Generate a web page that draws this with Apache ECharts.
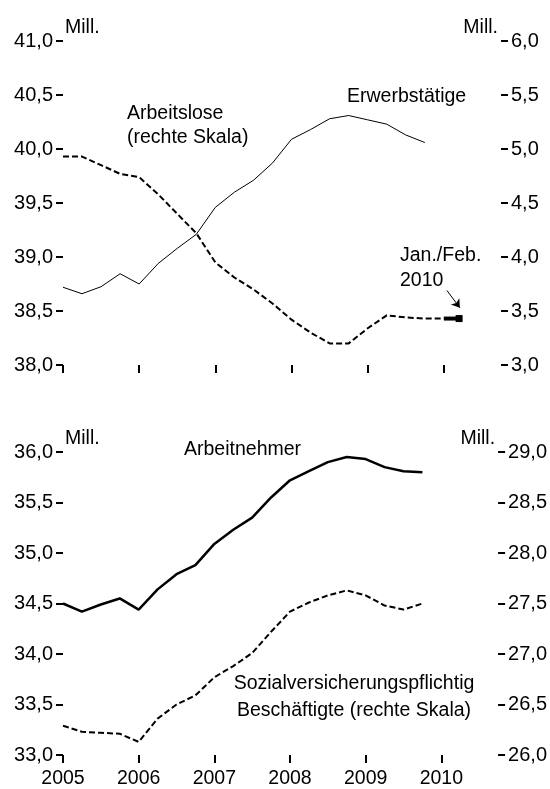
<!DOCTYPE html>
<html>
<head>
<meta charset="utf-8">
<script src="https://cdn.jsdelivr.net/npm/echarts@6/dist/echarts.min.js"></script>
<style>
html,body{margin:0;padding:0;background:#fff;}
#chart{width:550px;height:789px;}
</style>
</head>
<body>
<div id="chart"></div>
<script>
// Quarter positions (fractional years)
var quarters = [2005.0, 2005.25, 2005.5, 2005.75, 2006.0, 2006.25, 2006.5, 2006.75,
                2007.0, 2007.25, 2007.5, 2007.75, 2008.0, 2008.25, 2008.5, 2008.75,
                2009.0, 2009.25, 2009.5, 2009.75];
var yearTicks = [2005, 2006, 2007, 2008, 2009, 2010];

// Top panel (Mill.)
var erwerbstaetige = [38.72, 38.66, 38.725, 38.845, 38.75, 38.94, 39.08, 39.21, 39.46, 39.60,
                      39.71, 39.87, 40.09, 40.18, 40.28, 40.31, 40.27, 40.23, 40.13, 40.06];
var arbeitslose = [4.93, 4.93, 4.85, 4.77, 4.74, 4.58, 4.40, 4.22, 3.95, 3.81,
                   3.70, 3.57, 3.42, 3.30, 3.20, 3.20, 3.34, 3.46, 3.44, 3.43];
var arbeitsloseEndX = 2010.0, arbeitsloseEndY = 3.43;
var janFebX = [2010.0, 2010.2];
var janFebY = [3.43, 3.43];

// Bottom panel (Mill.)
var arbeitnehmer = [34.50, 34.42, 34.49, 34.55, 34.44, 34.64, 34.79, 34.88, 35.09, 35.23,
                    35.35, 35.55, 35.72, 35.81, 35.90, 35.95, 35.93, 35.85, 35.81, 35.80];
var svBeschaeftigte = [26.29, 26.23, 26.22, 26.21, 26.13, 26.36, 26.50, 26.59, 26.77, 26.88,
                       27.01, 27.22, 27.42, 27.51, 27.58, 27.63, 27.58, 27.48, 27.44, 27.50];

function pairs(xs, ys) { return xs.map(function (x, i) { return [x, ys[i]]; }); }

var FONT = "'Liberation Sans', Arial, sans-serif";
var FS = 19.5;
function fmt(v) { return v.toFixed(1).replace('.', ','); }

function yAxis(gridIdx, min, max, pos) {
  return {
    type: 'value', gridIndex: gridIdx, position: pos, min: min, max: max, interval: 0.5,
    name: 'Mill.', nameLocation: 'end', nameGap: 3,
    nameTextStyle: { fontFamily: FONT, fontSize: FS, color: '#000',
                     align: pos === 'left' ? 'left' : 'right', verticalAlign: 'bottom',
                     padding: pos === 'left' ? [0, 0, 0, 2] : [0, 3, 0, 0] },
    axisLine: { show: false },
    axisTick: { show: true, length: 7, lineStyle: { color: '#000', width: 2 } },
    splitLine: { show: false },
    axisLabel: { fontFamily: FONT, fontSize: 20, color: '#000', margin: 10, formatter: fmt }
  };
}
function xAxis(gridIdx, showLabels) {
  return {
    type: 'value', gridIndex: gridIdx, min: 2005, max: 2010.75, interval: 1,
    axisLine: { show: false },
    axisTick: { show: true, length: 8, customValues: yearTicks, lineStyle: { color: '#000', width: 2 } },
    splitLine: { show: false },
    axisLabel: { show: showLabels, customValues: yearTicks, fontFamily: FONT, fontSize: FS, color: '#000', margin: 14,
                 formatter: function (v) { return String(Math.round(v)); } }
  };
}

var chart = echarts.init(document.getElementById('chart'), null, { renderer: 'canvas' });
chart.setOption({
  animation: false,
  backgroundColor: '#fff',
  grid: [
    { left: 63, right: 49, top: 41, height: 324 },
    { left: 63, right: 49, top: 452, height: 304 }
  ],
  xAxis: [xAxis(0, false), xAxis(1, true)],
  yAxis: [
    yAxis(0, 38, 41, 'left'),
    yAxis(0, 3, 6, 'right'),
    yAxis(1, 33, 36, 'left'),
    yAxis(1, 26, 29, 'right')
  ],
  series: [
    { name: 'Erwerbstätige', type: 'line', xAxisIndex: 0, yAxisIndex: 0, symbol: 'none',
      lineStyle: { color: '#000', width: 1 }, data: pairs(quarters, erwerbstaetige) },
    { name: 'Arbeitslose', type: 'line', xAxisIndex: 0, yAxisIndex: 1, symbol: 'none',
      lineStyle: { color: '#000', width: 2, type: [6, 3] },
      data: pairs(quarters, arbeitslose).concat([[arbeitsloseEndX, arbeitsloseEndY]]) },
    { name: 'Jan./Feb. 2010', type: 'line', xAxisIndex: 0, yAxisIndex: 1,
      lineStyle: { color: '#000', width: 4 }, itemStyle: { color: '#000' },
      symbol: 'rect', symbolSize: 7,
      data: [{ value: [janFebX[0], janFebY[0]], symbol: 'none' }, { value: [janFebX[1], janFebY[1]] }],
      markLine: {
        silent: true, symbol: ['none', 'arrow'], symbolSize: 8,
        lineStyle: { color: '#000', width: 1, type: 'solid' }, label: { show: false },
        data: [[{ coord: [2010.04, 3.69] }, { coord: [2010.21, 3.53] }]]
      } },
    { name: 'Arbeitnehmer', type: 'line', xAxisIndex: 1, yAxisIndex: 2, symbol: 'none',
      lineStyle: { color: '#000', width: 2.5 }, data: pairs(quarters, arbeitnehmer) },
    { name: 'Sozialversicherungspflichtig Beschäftigte', type: 'line', xAxisIndex: 1, yAxisIndex: 3, symbol: 'none',
      lineStyle: { color: '#000', width: 2, type: [6, 3] }, data: pairs(quarters, svBeschaeftigte) }
  ],
  graphic: [
    { type: 'text', x: 127, y: 102, style: { text: 'Arbeitslose\n(rechte Skala)', fontFamily: FONT, fontSize: FS, lineHeight: 24, fill: '#000', align: 'left', verticalAlign: 'top' } },
    { type: 'text', x: 347, y: 85, style: { text: 'Erwerbstätige', fontFamily: FONT, fontSize: FS, lineHeight: 24, fill: '#000', align: 'left', verticalAlign: 'top' } },
    { type: 'text', x: 400, y: 243, style: { text: 'Jan./Feb.\n2010', fontFamily: FONT, fontSize: FS, lineHeight: 25, fill: '#000', align: 'left', verticalAlign: 'top' } },
    { type: 'text', x: 184, y: 438, style: { text: 'Arbeitnehmer', fontFamily: FONT, fontSize: FS, lineHeight: 24, fill: '#000', align: 'left', verticalAlign: 'top' } },
    { type: 'text', x: 354, y: 670, style: { text: 'Sozialversicherungspflichtig\nBeschäftigte (rechte Skala)', fontFamily: FONT, fontSize: FS, lineHeight: 27, fill: '#000', align: 'center', verticalAlign: 'top' } }
  ]
});
</script>
</body>
</html>
